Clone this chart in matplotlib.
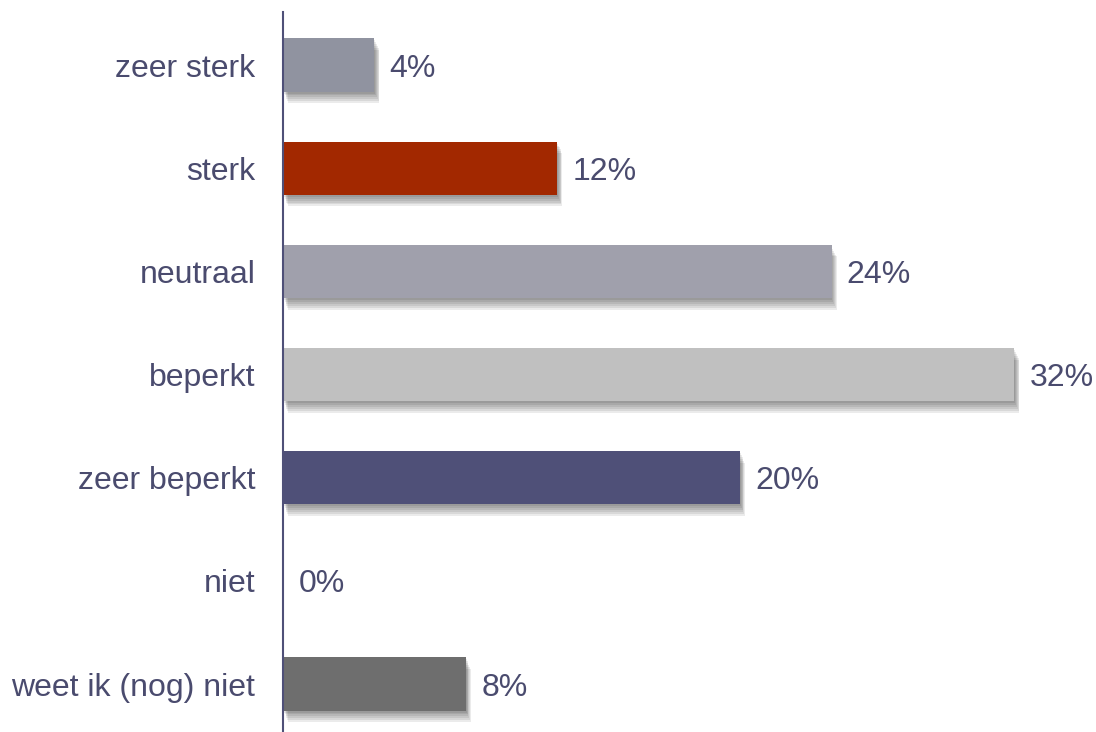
import matplotlib
matplotlib.use("Agg")
import matplotlib.pyplot as plt
import matplotlib.patheffects as pe

# gegevens
categorieen = ["zeer sterk", "sterk", "neutraal", "beperkt", "zeer beperkt", "niet", "weet ik (nog) niet"]
percentages = [4, 12, 24, 32, 20, 0, 8]
kleuren = ["#9093A0", "#A22800", "#A0A0AC", "#C0C0C0", "#4F5078", "#9093A0", "#6E6E6E"]

tekstkleur = "#4A4B6E"
plt.rcParams["font.family"] = ["Liberation Sans", "DejaVu Sans"]

fig = plt.figure(figsize=(10.96, 7.32), dpi=100)
ax = fig.add_axes([283 / 1096, 0, 800 / 1096, 720 / 732])

y = list(range(len(categorieen)))

# schaduw: een paar lagen met kleine verschuiving, geeft een zachte rand
schaduw = [pe.SimplePatchShadow(offset=(0.6 * d, -1.4 * d), shadow_rgbFace="black", alpha=0.08)
           for d in (1, 2, 3, 4, 5, 6)]
bars = ax.barh(y, percentages, height=0.515, color=kleuren, zorder=2)
for b, p in zip(bars, percentages):
    if p > 0:
        b.set_path_effects(schaduw + [pe.Normal()])

# labels achter de balken
for yi, p in zip(y, percentages):
    ax.annotate(f"{p}%", xy=(p, yi), xytext=(11, 0), textcoords="offset points",
                ha="left", va="center_baseline", fontsize=23, color=tekstkleur)

ax.set_xlim(0, 35)
ax.set_ylim(len(categorieen) - 1 + 0.465, -0.514)
ax.set_yticks(y)
ax.set_yticklabels(categorieen, fontsize=23, color=tekstkleur, va="center_baseline")
ax.tick_params(axis="y", length=0, pad=20)
ax.set_xticks([])

for s in ["top", "right", "bottom"]:
    ax.spines[s].set_visible(False)
ax.spines["left"].set_color("#4F5078")
ax.spines["left"].set_linewidth(1.5)
ax.spines["left"].set_zorder(3)

fig.savefig("out.png", dpi=100)
